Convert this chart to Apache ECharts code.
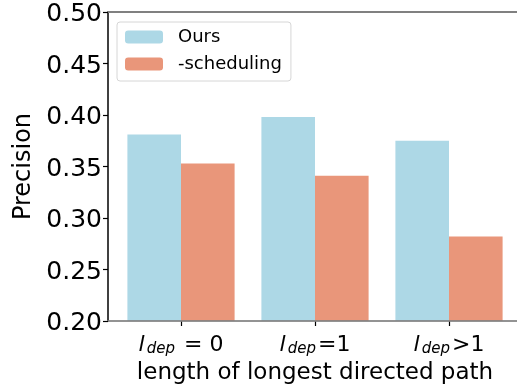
<!DOCTYPE html>
<html>
<head>
<meta charset="utf-8">
<script src="https://cdn.jsdelivr.net/npm/echarts@6/dist/echarts.min.js"></script>
<style>
  html, body { margin: 0; padding: 0; background: #fff; }
  #chart { width: 517px; height: 388px; }
</style>
</head>
<body>
<div id="chart"></div>
<script>
// Categories: longest directed path length, written as "l_dep" + relation
const categories = ['l_dep = 0', 'l_dep=1', 'l_dep>1'];
const oursValues = [0.381, 0.398, 0.375];
const schedulingValues = [0.353, 0.341, 0.282];
const yTicks = [0.20, 0.25, 0.30, 0.35, 0.40, 0.45, 0.50];

const FONT = 'DejaVu Sans';
const chart = echarts.init(document.getElementById('chart'));

const yMin = yTicks[0];
const yMax = yTicks[yTicks.length - 1];
const yStep = 0.05;

chart.setOption({
  animation: false,
  backgroundColor: '#ffffff',
  textStyle: { fontFamily: FONT },
  grid: [
    // plotting grid: bars sit on this category axis
    { left: 114, right: 1, top: 12, bottom: 67, containLabel: false, outerBoundsMode: 'none' },
    // frame grid: spines, y ticks and labels
    { left: 108, right: 0, top: 12, bottom: 67, containLabel: false, outerBoundsMode: 'none' }
  ],
  legend: {
    data: ['Ours', '-scheduling'],
    orient: 'vertical',
    left: 117,
    top: 22,
    itemWidth: 38,
    itemHeight: 13,
    itemGap: 9,
    padding: [6, 9, 8, 8],
    backgroundColor: '#ffffff',
    borderColor: '#d6d6d6',
    borderWidth: 1,
    borderRadius: 3,
    textStyle: { fontFamily: FONT, fontSize: 18, color: '#000', padding: [0, 0, 0, 10] }
  },
  xAxis: [
    {
      type: 'category',
      gridIndex: 0,
      data: categories,
      axisLine: { show: false },
      axisTick: { show: true, alignWithLabel: true, length: 5, lineStyle: { color: '#000', width: 1.2 } },
      axisLabel: {
        interval: 0,
        margin: 13,
        formatter: function (v) {
          return '{i|l}{s|dep}{r|' + v.slice(5) + '}';
        },
        rich: {
          i: { fontFamily: FONT, fontStyle: 'italic', fontSize: 22, color: '#000', lineHeight: 23, verticalAlign: 'middle', padding: [0, 2, 0, 0] },
          s: { fontFamily: FONT, fontStyle: 'italic', fontSize: 15, color: '#000', lineHeight: 15, verticalAlign: 'bottom' },
          r: { fontFamily: FONT, fontSize: 22, color: '#000', lineHeight: 23, verticalAlign: 'middle', padding: [0, 0, 0, 2] }
        }
      },
      name: 'length of longest directed path',
      nameLocation: 'middle',
      nameGap: 40,
      nameTextStyle: { fontFamily: FONT, fontSize: 23, color: '#000' },
      splitLine: { show: false }
    },
    {
      type: 'value',
      gridIndex: 1,
      min: 0,
      max: 1,
      position: 'bottom',
      z: 5,
      axisLine: { show: true, lineStyle: { color: '#808080', width: 2, opacity: 0.85 } },
      axisTick: { show: false },
      axisLabel: { show: false },
      splitLine: { show: false }
    },
    {
      type: 'value',
      gridIndex: 1,
      min: 0,
      max: 1,
      position: 'top',
      z: 5,
      axisLine: { show: true, lineStyle: { color: '#808080', width: 2 } },
      axisTick: { show: false },
      axisLabel: { show: false },
      splitLine: { show: false }
    }
  ],
  yAxis: [
    {
      type: 'value',
      gridIndex: 0,
      min: yMin,
      max: yMax,
      interval: yStep,
      show: false
    },
    {
      type: 'value',
      gridIndex: 1,
      min: yMin,
      max: yMax,
      interval: yStep,
      z: 5,
      axisLine: { show: true, lineStyle: { color: '#000', width: 1.5 } },
      axisTick: { show: true, length: 5, lineStyle: { color: '#000', width: 1.2 } },
      axisLabel: {
        margin: 6,
        formatter: v => '{t|' + v.toFixed(2) + '}',
        rich: {
          t: { fontFamily: FONT, fontSize: 25, color: '#000', padding: [5, 0, 0, 0] }
        }
      },
      splitLine: { show: false },
      name: 'Precision',
      nameLocation: 'middle',
      nameGap: 65,
      nameRotate: 90,
      nameTextStyle: { fontFamily: FONT, fontSize: 24, color: '#000' }
    }
  ],
  series: [
    {
      name: 'Ours',
      type: 'bar',
      xAxisIndex: 0,
      yAxisIndex: 0,
      data: oursValues,
      barWidth: '40%',
      barGap: '0%',
      itemStyle: { color: '#add8e6' }
    },
    {
      name: '-scheduling',
      type: 'bar',
      xAxisIndex: 0,
      yAxisIndex: 0,
      data: schedulingValues,
      barWidth: '40%',
      barGap: '0%',
      itemStyle: { color: '#e9967a' }
    }
  ]
});
</script>
</body>
</html>
